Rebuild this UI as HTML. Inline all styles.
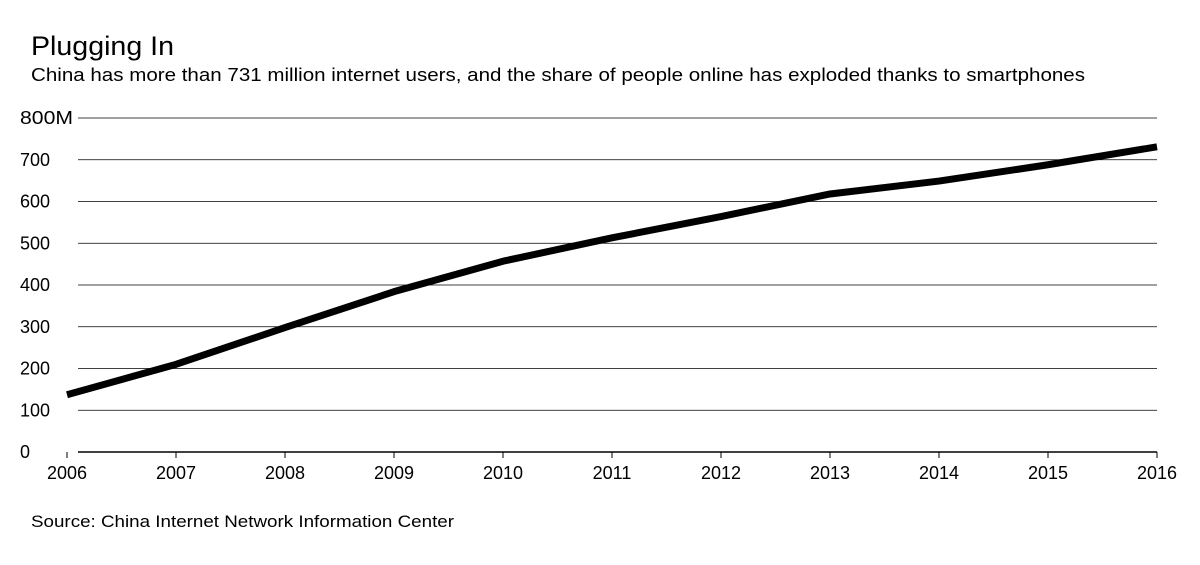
<!DOCTYPE html>
<html><head><meta charset="utf-8">
<style>
body{margin:0;background:#fff;font-family:"Liberation Sans",sans-serif;}
#wrap{position:relative;width:1200px;height:565px;overflow:hidden;}
</style></head>
<body>
<div id="wrap">
<svg id="chart" width="1200" height="565">
<text x="31" y="55" font-size="27" textLength="143" lengthAdjust="spacingAndGlyphs" fill="#000">Plugging In</text>
<text x="31" y="81" font-size="18.5" textLength="1054" lengthAdjust="spacingAndGlyphs" fill="#000">China has more than 731 million internet users, and the share of people online has exploded thanks to smartphones</text>
<text x="31" y="527" font-size="17" textLength="423" lengthAdjust="spacingAndGlyphs" fill="#000">Source: China Internet Network Information Center</text>
<g id="grid"></g><g id="xaxis"></g><g id="series"></g>
</svg>
</div>
<script>
const years=[2006,2007,2008,2009,2010,2011,2012,2013,2014,2015,2016];
const users=[137,210,298,384,457,513,564,618,649,688,731];
const yTicks=[0,100,200,300,400,500,600,700,800];
const yTickLabels=["0","100","200","300","400","500","600","700","800M"];
const ns="http://www.w3.org/2000/svg";
const X0=67,X1=1157,Y0=452,Y1=118;
function x(v){return X0+(v-2006)/(2016-2006)*(X1-X0);}
function y(v){return Y0-v/800*(Y0-Y1);}
function mk(t,a,p){const e=document.createElementNS(ns,t);for(const k in a)e.setAttribute(k,a[k]);p.appendChild(e);return e;}
const grid=document.getElementById('grid');
yTicks.forEach((v,i)=>{
  const l=mk('line',{x1:78,x2:X1,y1:y(v),y2:y(v),stroke:'#000','stroke-width':v===0?1.5:0.8},grid);
  
  
  const t=mk('text',{x:20,y:y(v)+6,'font-size':18,fill:'#000'},grid);
  t.textContent=yTickLabels[i];
  if(yTickLabels[i].length>3){t.setAttribute('textLength',53);t.setAttribute('lengthAdjust','spacingAndGlyphs');}
  
  
});
const xa=document.getElementById('xaxis');
years.forEach(v=>{
  const tk=mk('line',{x1:x(v),x2:x(v),y1:Y0,y2:Y0+6,stroke:'#000','stroke-width':1},xa);
  
  
  const t=mk('text',{x:x(v),y:479,'font-size':18,fill:'#000','text-anchor':'middle'},xa);
  t.textContent=v;
  
  
});
const pts=years.map((v,i)=>x(v)+','+y(users[i])).join(' ');
const pl=mk('polyline',{points:pts,fill:'none',stroke:'#000','stroke-width':7,'stroke-linejoin':'round'},document.getElementById('series'));


</script>
</body></html>
